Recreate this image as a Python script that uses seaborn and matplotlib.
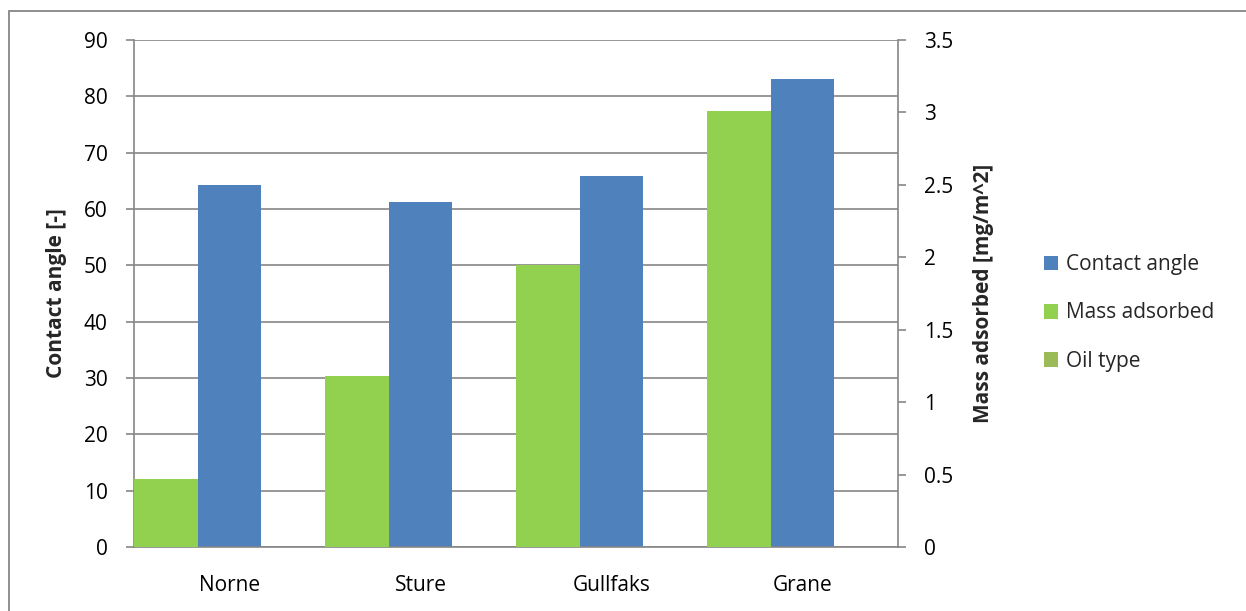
import numpy as np
import pandas as pd
import matplotlib
matplotlib.use("Agg")
import matplotlib.pyplot as plt
from matplotlib.patches import Patch, Rectangle
import seaborn as sns

# Data
oil_types = ["Norne", "Sture", "Gullfaks", "Grane"]
contact_angle = [64.3, 61.3, 65.9, 83.0]          # degrees, left axis
mass_adsorbed = [0.47, 1.18, 1.95, 3.01]           # mg/m^2, right axis
series_order = ["Mass adsorbed", "Contact angle", "Oil type"]
left_ticks = [0, 10, 20, 30, 40, 50, 60, 70, 80, 90]
right_ticks = [0, 0.5, 1, 1.5, 2, 2.5, 3, 3.5]

colors = {"Contact angle": "#4F81BD", "Mass adsorbed": "#92D050", "Oil type": "#9BBB59"}
grid_gray = "#868686"

sns.set_theme(style="white")
plt.rcParams["font.family"] = ["Open Sans", "DejaVu Sans"]

angle_df = pd.DataFrame({"oil": oil_types, "value": contact_angle, "series": "Contact angle"})
mass_df = pd.DataFrame({"oil": oil_types, "value": mass_adsorbed, "series": "Mass adsorbed"})

fig = plt.figure(figsize=(12.46, 6.11), dpi=100)
ax1 = fig.add_axes([134 / 1246, 1 - 547 / 611, (898 - 134) / 1246, (547 - 40) / 611])
ax2 = ax1.twinx()

bar_kw = dict(x="oil", y="value", hue="series", order=oil_types, hue_order=series_order,
              palette=colors, saturation=1, width=1.0, gap=0, dodge=True,
              errorbar=None, linewidth=0, legend=False)
sns.barplot(data=angle_df, ax=ax1, **bar_kw)
sns.barplot(data=mass_df, ax=ax2, **bar_kw)

fs = 15
# Left axis
ax1.set_ylim(0, 90)
ax1.set_yticks(left_ticks)
ax1.set_yticklabels([str(t) for t in left_ticks], fontsize=fs)
ax1.yaxis.grid(True, color=grid_gray, linewidth=1.2)
ax1.set_axisbelow(True)
ax1.set_ylabel("Contact angle [-]", fontsize=fs, fontweight="bold", labelpad=12)

# Right axis
ax2.set_ylim(0, 3.5)
ax2.set_yticks(right_ticks)
ax2.set_yticklabels([f"{t:g}" for t in right_ticks], fontsize=fs)
ax2.set_ylabel("Mass adsorbed [mg/m^2]", fontsize=fs, fontweight="bold", labelpad=14)
ax2.grid(False)

# Category axis: labels centred in each slot, tick marks on slot boundaries
ax1.set_xlim(-0.5, len(oil_types) - 0.5)
ax1.set_xticks(range(len(oil_types)))
ax1.set_xticklabels(oil_types, fontsize=fs)
ax1.set_xticks(np.arange(-0.5, len(oil_types)), minor=True)
ax1.tick_params(axis="x", which="major", length=0, pad=20, colors="black")
ax1.tick_params(axis="x", which="minor", length=5, width=1.2, color=grid_gray, direction="out")
ax1.set_xlabel("")
ax2.set_xlabel("")

ax1.tick_params(axis="y", which="major", left=True, length=6, width=1.2, color=grid_gray,
                pad=13, labelcolor="black", direction="out")
ax2.tick_params(axis="y", which="major", right=True, length=6, width=1.2, color=grid_gray,
                pad=13, labelcolor="black", direction="out")

for ax in (ax1, ax2):
    for side, sp in ax.spines.items():
        sp.set_color(grid_gray)
        sp.set_linewidth(1.2)
    ax.spines["top"].set_visible(False)
ax1.spines["right"].set_visible(False)
ax2.spines["left"].set_visible(False)
ax2.spines["bottom"].set_visible(False)

# Legend
handles = [Patch(facecolor=colors[s], edgecolor="none") for s in ["Contact angle", "Mass adsorbed", "Oil type"]]
fig.legend(handles, ["Contact angle", "Mass adsorbed", "Oil type"],
           loc="center left", bbox_to_anchor=(1025 / 1246, 1 - 313 / 611),
           frameon=False, fontsize=fs, handlelength=0.7, handleheight=0.7,
           handletextpad=0.35, labelspacing=1.3)

# Chart area border
fig.add_artist(Rectangle((9 / 1246, -0.1), 1.2, (611 - 11) / 611 + 0.1,
                         transform=fig.transFigure, fill=False,
                         edgecolor=grid_gray, linewidth=1.3, clip_on=False))

fig.savefig("out.png", dpi=100)
